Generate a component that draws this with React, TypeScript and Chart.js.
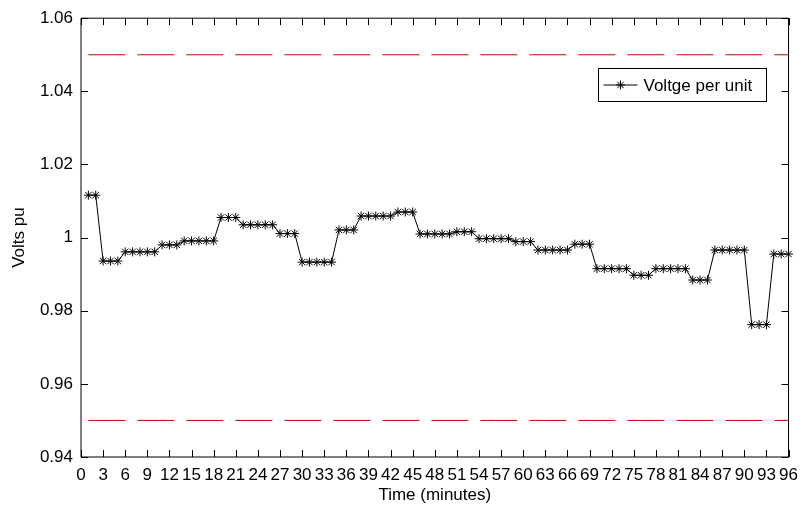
import React, { useEffect, useRef } from 'react';
import { Chart, registerables } from 'chart.js';

Chart.register(...registerables);

// Voltage per unit, one value per minute (minutes 1..96)
const voltage: number[] = [
  1.0116, 1.0116,
  0.9936, 0.9936, 0.9936,
  0.9961, 0.9961, 0.9961, 0.9961, 0.9961,
  0.9980, 0.9980, 0.9980,
  0.9991, 0.9991, 0.9991, 0.9991, 0.9991,
  1.0055, 1.0055, 1.0055,
  1.0035, 1.0035, 1.0035, 1.0035, 1.0035,
  1.0011, 1.0011, 1.0011,
  0.9933, 0.9933, 0.9933, 0.9933, 0.9933,
  1.0021, 1.0021, 1.0021,
  1.0059, 1.0059, 1.0059, 1.0059, 1.0059,
  1.0070, 1.0070, 1.0070,
  1.0010, 1.0010, 1.0010, 1.0010, 1.0010,
  1.0016, 1.0016, 1.0016,
  0.9997, 0.9997, 0.9997, 0.9997, 0.9997,
  0.9989, 0.9989, 0.9989,
  0.9966, 0.9966, 0.9966, 0.9966, 0.9966,
  0.9982, 0.9982, 0.9982,
  0.9915, 0.9915, 0.9915, 0.9915, 0.9915,
  0.9897, 0.9897, 0.9897,
  0.9915, 0.9915, 0.9915, 0.9915, 0.9915,
  0.9884, 0.9884, 0.9884,
  0.9966, 0.9966, 0.9966, 0.9966, 0.9966,
  0.9762, 0.9762, 0.9762,
  0.9955, 0.9955, 0.9955,
];
const minutes: number[] = voltage.map((_, i) => i + 1);

const limitX: number[] = [1, 96];
const upperLimit: number[] = [1.05, 1.05];
const lowerLimit: number[] = [0.95, 0.95];

const xMin = 0;
const xMax = 96;
const xStep = 3;
const yMin = 0.94;
const yMax = 1.06;
const yStep = 0.02;

const seriesLabel = 'Voltge per unit';
const xTitle = 'Time (minutes)';
const yTitle = 'Volts pu';

const FONT = '"Liberation Sans", Arial, sans-serif';
const FONT_SIZE = 17;

const framePlugin = {
  id: 'frameTicks',
  afterDatasetsDraw(chart: any) {
    const { ctx, chartArea } = chart;
    const { left, right, top, bottom } = chartArea;
    const xs = chart.scales.x;
    const ys = chart.scales.y;
    const tl = 7;
    ctx.save();
    ctx.strokeStyle = '#000';
    ctx.lineWidth = 1;
    ctx.beginPath();
    ctx.rect(left, top, right - left, bottom - top);
    ctx.stroke();
    ctx.beginPath();
    xs.ticks.forEach((t: any) => {
      const px = Math.round(xs.getPixelForValue(t.value)) + 0.5;
      ctx.moveTo(px, bottom);
      ctx.lineTo(px, bottom - tl);
      ctx.moveTo(px, top);
      ctx.lineTo(px, top + tl);
    });
    ys.ticks.forEach((t: any) => {
      const py = Math.round(ys.getPixelForValue(t.value)) + 0.5;
      ctx.moveTo(left, py);
      ctx.lineTo(left + tl, py);
      ctx.moveTo(right, py);
      ctx.lineTo(right - tl, py);
    });
    ctx.stroke();
    ctx.restore();
  },
};

const legendPlugin = {
  id: 'boxLegend',
  afterDraw(chart: any) {
    const { ctx } = chart;
    const x0 = 598.5;
    const y0 = 68.5;
    const w = 168;
    const h = 33;
    ctx.save();
    ctx.fillStyle = '#fff';
    ctx.fillRect(x0, y0, w, h);
    ctx.strokeStyle = '#000';
    ctx.lineWidth = 1;
    ctx.strokeRect(x0, y0, w, h);
    const cy = y0 + h / 2;
    ctx.beginPath();
    ctx.moveTo(x0 + 5, cy);
    ctx.lineTo(x0 + 39, cy);
    ctx.stroke();
    // star marker
    const cx = x0 + 22;
    const r = 4.5;
    const d = r * Math.SQRT1_2;
    ctx.beginPath();
    ctx.moveTo(cx - r, cy); ctx.lineTo(cx + r, cy);
    ctx.moveTo(cx, cy - r); ctx.lineTo(cx, cy + r);
    ctx.moveTo(cx - d, cy - d); ctx.lineTo(cx + d, cy + d);
    ctx.moveTo(cx - d, cy + d); ctx.lineTo(cx + d, cy - d);
    ctx.stroke();
    ctx.fillStyle = '#000';
    ctx.font = `${FONT_SIZE}px ${FONT}`;
    ctx.textBaseline = 'middle';
    ctx.textAlign = 'left';
    ctx.fillText(seriesLabel, x0 + 45, cy + 1);
    ctx.restore();
  },
};

export default function App() {
  const ref = useRef<HTMLCanvasElement | null>(null);
  useEffect(() => {
    if (!ref.current) return;
    Chart.defaults.font.family = FONT;
    Chart.defaults.font.size = FONT_SIZE;
    Chart.defaults.color = '#000';
    const chart = new Chart(ref.current, {
      type: 'line',
      data: {
        datasets: [
          {
            label: seriesLabel,
            data: minutes.map((m, i) => ({ x: m, y: voltage[i] })),
            borderColor: '#000',
            backgroundColor: '#000',
            borderWidth: 1,
            pointStyle: 'star',
            pointRadius: 4.5,
            pointBorderWidth: 1,
            pointBorderColor: '#000',
            tension: 0,
            clip: 10,
            order: 0,
          },
          {
            label: 'upper',
            data: limitX.map((m, i) => ({ x: m, y: upperLimit[i] })),
            borderColor: '#d40000',
            borderWidth: 1,
            borderDash: [37, 12],
            pointRadius: 0,
            order: 1,
          },
          {
            label: 'lower',
            data: limitX.map((m, i) => ({ x: m, y: lowerLimit[i] })),
            borderColor: '#d40000',
            borderWidth: 1,
            borderDash: [37, 12],
            pointRadius: 0,
            order: 1,
          },
        ] as any,
      },
      options: {
        animation: false,
        responsive: false,
        maintainAspectRatio: false,
        layout: { padding: { top: 17, right: 11, left: 0, bottom: 0 } },
        plugins: {
          legend: { display: false },
          tooltip: { enabled: false },
        },
        scales: {
          x: {
            type: 'linear',
            min: xMin,
            max: xMax,
            grid: { display: false, drawTicks: false },
            border: { display: false },
            ticks: {
              stepSize: xStep,
              autoSkip: false,
              maxRotation: 0,
              padding: 8,
              font: { size: FONT_SIZE },
            },
            title: {
              display: true,
              text: xTitle,
              font: { size: FONT_SIZE },
              padding: { top: 0, bottom: 2 },
            },
            afterFit: (s: any) => { s.height = 51; },
          },
          y: {
            type: 'linear',
            min: yMin,
            max: yMax,
            grid: { display: false, drawTicks: false },
            border: { display: false },
            ticks: {
              stepSize: yStep,
              padding: 8,
              font: { size: FONT_SIZE },
              callback: (v: any) => String(Number(Number(v).toFixed(2))),
            },
            title: {
              display: true,
              text: yTitle,
              font: { size: FONT_SIZE },
              padding: { top: 9, bottom: 0 },
            },
            afterFit: (s: any) => { s.width = 81; },
          },
        },
      },
      plugins: [framePlugin, legendPlugin],
    });
    return () => chart.destroy();
  }, []);
  return (
    <div style={{ position: 'fixed', left: 0, top: 0, width: 806, height: 508, background: '#fff' }}>
      <canvas ref={ref} width={806} height={508} style={{ width: 806, height: 508 }} />
    </div>
  );
}
